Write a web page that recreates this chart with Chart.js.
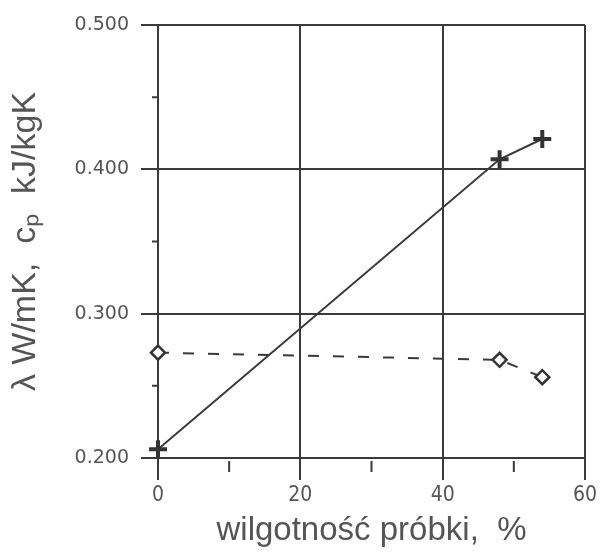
<!DOCTYPE html>
<html>
<head>
<meta charset="utf-8">
<script src="https://cdn.jsdelivr.net/npm/chart.js@4"></script>
<style>
  html, body { margin: 0; padding: 0; background: #fff; }
  #wrap { width: 600px; height: 553px; }
</style>
</head>
<body>
<div id="wrap"><canvas id="wykres"></canvas></div>
<script>
// Dane
const wilgotnosc = [0, 48, 54];
const wartosciLambda = [0.206, 0.407, 0.421];
const wartosciCp = [0.273, 0.268, 0.256];

const yTicksGlowne = [0.2, 0.3, 0.4, 0.5];
const yTicksMniejsze = [0.25, 0.35, 0.45];
const xTicksGlowne = [0, 20, 40, 60];
const xTicksMniejsze = [10, 30, 50];

const kolorLinii = '#3a3a3a';
const kolorTekstu = '#555';

// Drobne znaczniki osi (krotsze niz glowne)
const drobneZnaczniki = {
    id: 'drobneZnaczniki',
    afterDraw(chart) {
        const ctx = chart.ctx;
        const sx = chart.scales.x;
        const sy = chart.scales.y;
        const area = chart.chartArea;
        ctx.save();
        ctx.strokeStyle = kolorLinii;
        ctx.lineWidth = 2;
        ctx.beginPath();
        xTicksMniejsze.forEach(v => {
            const px = sx.getPixelForValue(v);
            ctx.moveTo(px, area.bottom + 3);
            ctx.lineTo(px, area.bottom + 14);
        });
        yTicksMniejsze.forEach(v => {
            const py = sy.getPixelForValue(v);
            ctx.moveTo(area.left - 6, py);
            ctx.lineTo(area.left + 1, py);
        });
        ctx.stroke();
        ctx.restore();
    }
};

const punkty = (xs, ys) => xs.map((x, i) => ({x: x, y: ys[i]}));

new Chart(document.getElementById('wykres'), {
    type: 'scatter',
    data: {
        datasets: [{
            label: 'λ',
            data: punkty(wilgotnosc, wartosciLambda),
            showLine: true,
            borderColor: kolorLinii,
            borderWidth: 2,
            pointStyle: 'cross',
            pointRadius: 9,
            pointBorderWidth: 4,
            pointBorderColor: '#333',
            clip: false
        }, {
            label: 'cp',
            data: punkty(wilgotnosc, wartosciCp),
            showLine: true,
            borderColor: kolorLinii,
            borderWidth: 2,
            borderDash: [11, 14],
            pointStyle: 'rectRot',
            pointRadius: 7,
            pointBorderWidth: 2.5,
            pointBackgroundColor: '#fff',
            pointBorderColor: '#333',
            clip: false
        }]
    },
    options: {
        responsive: true,
        maintainAspectRatio: false,
        animation: false,
        layout: { padding: { left: 0, right: 12, top: 25, bottom: 0 } },
        plugins: {
            legend: { display: false },
            tooltip: { enabled: false }
        },
        scales: {
            x: {
                type: 'linear',
                min: 0,
                max: 60,
                afterBuildTicks: s => { s.ticks = xTicksGlowne.map(v => ({value: v})); },
                afterFit: s => { s.height = 95; },
                grid: { color: kolorLinii, lineWidth: 2, tickLength: 22 },
                border: { display: false },
                ticks: {
                    color: kolorTekstu,
                    padding: 3,
                    maxRotation: 0,
                    font: { family: 'DejaVu Sans Condensed', size: 21 }
                },
                title: {
                    display: true,
                    text: 'wilgotność próbki,  %',
                    color: kolorTekstu,
                    font: { family: 'Liberation Sans', size: 33 },
                    padding: { top: 0, bottom: 2 }
                }
            },
            y: {
                min: 0.2,
                max: 0.5,
                afterBuildTicks: s => { s.ticks = yTicksGlowne.map(v => ({value: v})); },
                afterFit: s => { s.width = 158; },
                grid: { color: kolorLinii, lineWidth: 2, tickLength: 17 },
                border: { display: false },
                ticks: {
                    color: kolorTekstu,
                    padding: 12,
                    font: { family: 'DejaVu Sans', size: 19 },
                    callback: v => Number(v).toFixed(3)
                },
                title: {
                    display: true,
                    text: 'λ W/mK,  cₚ  kJ/kgK',
                    color: kolorTekstu,
                    font: { family: 'Liberation Sans', size: 34 },
                    padding: { top: 5, bottom: 0 }
                }
            }
        }
    },
    plugins: [drobneZnaczniki]
});
</script>
</body>
</html>
